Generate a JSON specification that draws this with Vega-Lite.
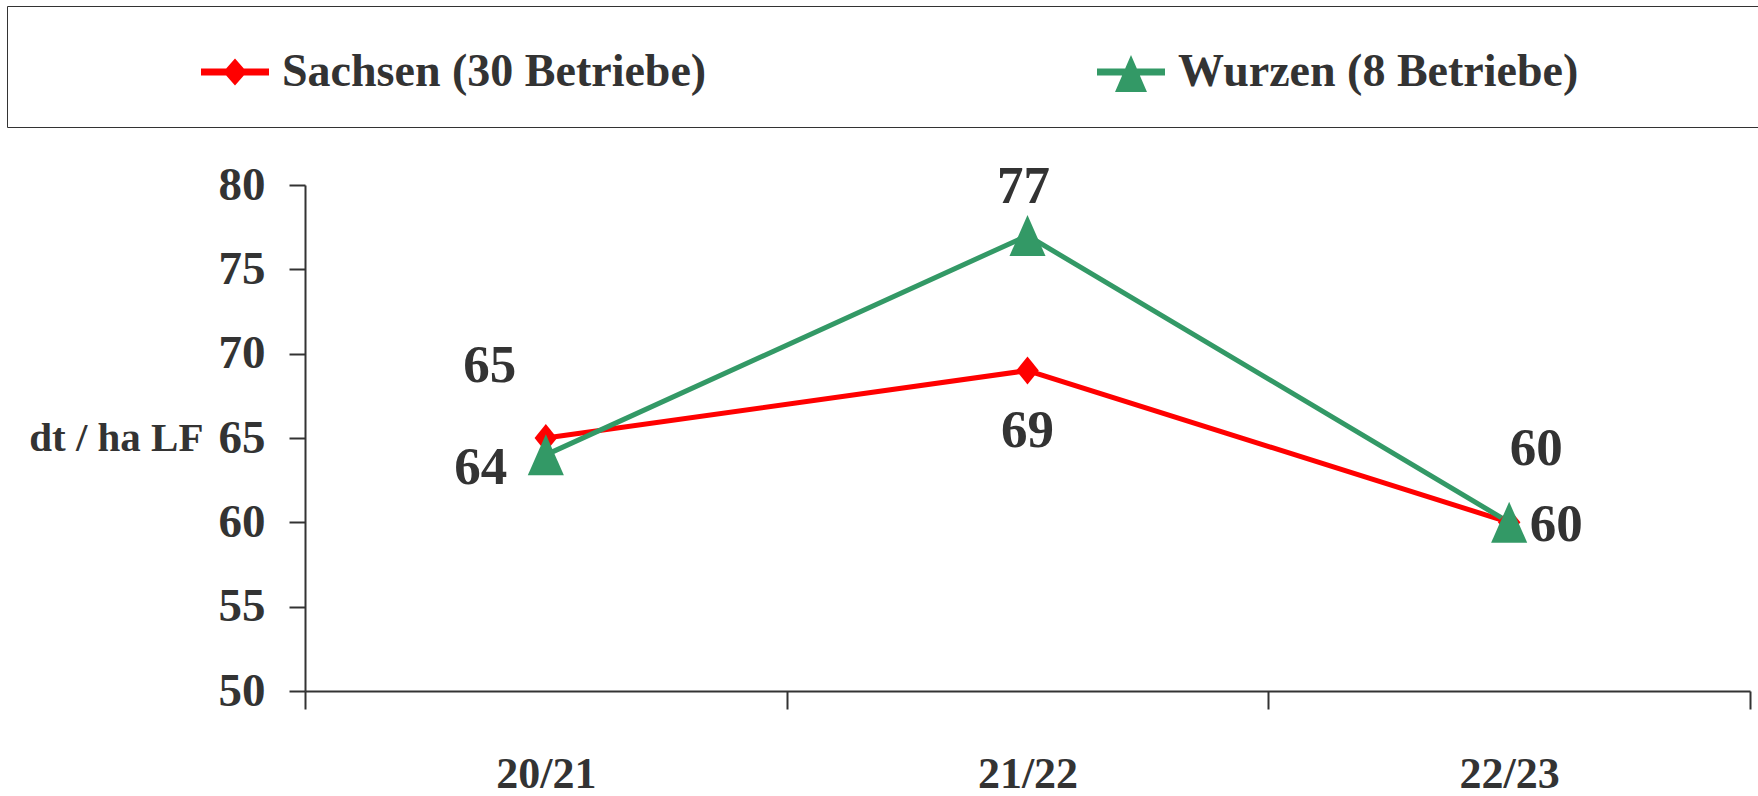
{
  "$schema": "https://vega.github.io/schema/vega-lite/v6.json",
  "width": 1445,
  "height": 506,
  "autosize": {"type": "none"},
  "padding": {"left": 305, "top": 185, "right": 8, "bottom": 105},
  "background": "white",
  "config": {"view": {"stroke": null}, "font": "Liberation Serif"},
  "data": {
    "values": [
      {"year": "20/21", "series": "Sachsen (30 Betriebe)", "value": 65},
      {"year": "21/22", "series": "Sachsen (30 Betriebe)", "value": 69},
      {"year": "22/23", "series": "Sachsen (30 Betriebe)", "value": 60},
      {"year": "20/21", "series": "Wurzen (8 Betriebe)", "value": 64},
      {"year": "21/22", "series": "Wurzen (8 Betriebe)", "value": 77},
      {"year": "22/23", "series": "Wurzen (8 Betriebe)", "value": 60}
    ]
  },
  "encoding": {
    "x": {
      "field": "year", "type": "nominal", "sort": null,
      "scale": {"type": "band", "paddingInner": 0, "paddingOuter": 0},
      "axis": {
        "title": null, "tickBand": "extent", "tickSize": 18, "tickWidth": 2, "tickColor": "#333333",
        "domainColor": "#333333", "domainWidth": 2, "labelFont": "Liberation Serif", "labelFontSize": 44,
        "labelFontWeight": "bold", "labelColor": "#333333", "labelPadding": 43, "labelAngle": 0
      }
    },
    "y": {
      "field": "value", "type": "quantitative",
      "scale": {"domain": [50, 80], "nice": false, "zero": false},
      "axis": {
        "title": "dt / ha LF", "values": [50, 55, 60, 65, 70, 75, 80], "grid": false,
        "tickSize": 16, "tickWidth": 2, "tickColor": "#333333", "domainColor": "#333333", "domainWidth": 2,
        "labelFont": "Liberation Serif", "labelFontSize": 47, "labelFontWeight": "bold", "labelColor": "#333333", "labelPadding": 24,
        "titleAngle": 0, "titleAlign": "right", "titleBaseline": "middle", "titleX": -102, "titleY": 253,
        "titleFont": "Liberation Serif", "titleFontSize": 41, "titleFontWeight": "bold", "titleColor": "#333333"
      }
    }
  },
  "layer": [
    {
      "mark": {"type": "line", "strokeWidth": 5},
      "encoding": {
        "color": {
          "field": "series", "type": "nominal",
          "scale": {"domain": ["Sachsen (30 Betriebe)", "Wurzen (8 Betriebe)"], "range": ["#ff0000", "#339966"]},
          "legend": {
            "title": null, "orient": "none", "legendX": -298, "legendY": -179, "direction": "horizontal", "columns": 2,
            "padding": 32, "strokeColor": "#333333", "symbolSize": 4624, "symbolOffset": 162, "labelOffset": 13,
            "columnPadding": 228, "labelFont": "Liberation Serif", "labelFontSize": 46, "labelFontWeight": "bold",
            "labelColor": "#333333", "labelLimit": 0, "symbolOpacity": 1, "symbolStrokeWidth": 0
          }
        }
      }
    },
    {
      "mark": {"type": "point", "filled": true, "opacity": 0, "size": 10},
      "encoding": {
        "color": {"field": "series", "type": "nominal", "legend": null},
        "shape": {
          "field": "series", "type": "nominal",
          "scale": {"domain": ["Sachsen (30 Betriebe)", "Wurzen (8 Betriebe)"], "range": ["M-1,-0.1H1V0.1H-1Z M0,-0.4L0.35,0L0,0.4L-0.35,0Z", "M-1,-0.1H1V0.1H-1Z M0,-0.5L0.47,0.59H-0.47Z M17.75,0"]},
          "legend": null
        }
      }
    },
    {
      "transform": [{"filter": "datum.series === 'Sachsen (30 Betriebe)'"}],
      "mark": {"type": "point", "filled": true, "opacity": 1, "size": 1681, "shape": "M0,-0.68L0.55,0L0,0.68L-0.55,0Z"},
      "encoding": {"color": {"field": "series", "type": "nominal", "legend": null}}
    },
    {
      "transform": [{"filter": "datum.series === 'Wurzen (8 Betriebe)'"}],
      "mark": {"type": "point", "filled": true, "opacity": 1, "size": 1681, "shape": "M0,-1L0.88,1H-0.88Z"},
      "encoding": {"color": {"field": "series", "type": "nominal", "legend": null}}
    },
    {
      "transform": [{"filter": "datum.series === 'Sachsen (30 Betriebe)' && datum.year === '20/21'"}],
      "mark": {"type": "text", "font": "Liberation Serif", "fontSize": 53, "fontWeight": "bold", "color": "#333333", "align": "center", "baseline": "middle", "dx": -56, "dy": -72},
      "encoding": {"text": {"field": "value", "type": "quantitative"}}
    },
    {
      "transform": [{"filter": "datum.series === 'Wurzen (8 Betriebe)' && datum.year === '20/21'"}],
      "mark": {"type": "text", "font": "Liberation Serif", "fontSize": 53, "fontWeight": "bold", "color": "#333333", "align": "center", "baseline": "middle", "dx": -65, "dy": 13},
      "encoding": {"text": {"field": "value", "type": "quantitative"}}
    },
    {
      "transform": [{"filter": "datum.series === 'Wurzen (8 Betriebe)' && datum.year === '21/22'"}],
      "mark": {"type": "text", "font": "Liberation Serif", "fontSize": 53, "fontWeight": "bold", "color": "#333333", "align": "center", "baseline": "middle", "dx": -4, "dy": -49},
      "encoding": {"text": {"field": "value", "type": "quantitative"}}
    },
    {
      "transform": [{"filter": "datum.series === 'Sachsen (30 Betriebe)' && datum.year === '21/22'"}],
      "mark": {"type": "text", "font": "Liberation Serif", "fontSize": 53, "fontWeight": "bold", "color": "#333333", "align": "center", "baseline": "middle", "dx": 0, "dy": 60},
      "encoding": {"text": {"field": "value", "type": "quantitative"}}
    },
    {
      "transform": [{"filter": "datum.series === 'Sachsen (30 Betriebe)' && datum.year === '22/23'"}],
      "mark": {"type": "text", "font": "Liberation Serif", "fontSize": 53, "fontWeight": "bold", "color": "#333333", "align": "center", "baseline": "middle", "dx": 27, "dy": -73},
      "encoding": {"text": {"field": "value", "type": "quantitative"}}
    },
    {
      "transform": [{"filter": "datum.series === 'Wurzen (8 Betriebe)' && datum.year === '22/23'"}],
      "mark": {"type": "text", "font": "Liberation Serif", "fontSize": 53, "fontWeight": "bold", "color": "#333333", "align": "center", "baseline": "middle", "dx": 47, "dy": 3},
      "encoding": {"text": {"field": "value", "type": "quantitative"}}
    }
  ]
}
